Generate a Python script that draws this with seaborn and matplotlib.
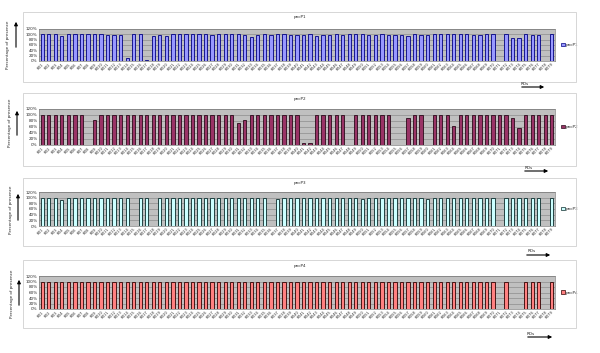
import matplotlib
matplotlib.use("Agg")
import matplotlib.pyplot as plt
import seaborn as sns
from matplotlib.patches import Rectangle
from matplotlib.ticker import PercentFormatter

# ---------------------------------------------------------------------------
# Data (fraction of strains in which each RD is present)
# ---------------------------------------------------------------------------

RD_LABELS = [
    "RD1", "RD2", "RD3", "RD4", "RD5", "RD6", "RD7", "RD8", "RD9", "RD10",
    "RD11", "RD12", "RD13", "RD14", "RD15", "RD16", "RD17", "RD18", "RD19", "RD20",
    "RD21", "RD22", "RD23", "RD24", "RD25", "RD26", "RD27", "RD28", "RD29", "RD30",
    "RD31", "RD32", "RD33", "RD34", "RD35", "RD36", "RD37", "RD38", "RD39", "RD40",
    "RD41", "RD42", "RD43", "RD44", "RD45", "RD46", "RD47", "RD48", "RD49", "RD50",
    "RD51", "RD52", "RD53", "RD54", "RD55", "RD56", "RD57", "RD58", "RD59", "RD60",
    "RD61", "RD62", "RD63", "RD64", "RD65", "RD66", "RD67", "RD68", "RD69", "RD70",
    "RD71", "RD72", "RD73", "RD74", "RD75", "RD76", "RD77", "RD78", "RD79",
]

PNCP1 = [
    1.00, 1.00, 1.00, 0.95, 1.00, 1.00, 1.00, 1.00, 1.00, 1.00,
    0.98, 0.98, 0.98, 0.10, 1.00, 1.00, 0.02, 0.95, 0.98, 0.95,
    1.00, 1.00, 1.00, 1.00, 1.00, 1.00, 0.98, 1.00, 1.00, 1.00,
    1.00, 0.98, 0.90, 0.97, 1.00, 0.99, 1.00, 1.00, 0.99, 0.97,
    0.96, 1.00, 0.92, 0.98, 0.99, 1.00, 0.97, 1.00, 1.00, 1.00,
    0.99, 0.98, 1.00, 0.99, 0.97, 0.97, 0.95, 1.00, 0.98, 0.98,
    1.00, 1.00, 1.00, 1.00, 1.00, 1.00, 0.99, 0.99, 1.00, 1.00,
    0.00, 1.00, 0.85, 0.88, 1.00, 0.99, 0.99, 0.00, 1.00,
]

PNCP2 = [
    1.00, 1.00, 1.00, 1.00, 1.00, 1.00, 1.00, 0.00, 0.82, 1.00,
    1.00, 1.00, 1.00, 1.00, 1.00, 1.00, 1.00, 1.00, 1.00, 1.00,
    1.00, 1.00, 1.00, 1.00, 1.00, 1.00, 1.00, 1.00, 1.00, 1.00,
    0.75, 0.82, 1.00, 1.00, 1.00, 1.00, 1.00, 1.00, 1.00, 1.00,
    0.08, 0.08, 1.00, 1.00, 1.00, 1.00, 1.00, 0.00, 1.00, 1.00,
    1.00, 1.00, 1.00, 1.00, 0.00, 0.00, 0.90, 1.00, 1.00, 0.00,
    1.00, 1.00, 1.00, 0.64, 1.00, 1.00, 1.00, 1.00, 1.00, 1.00,
    1.00, 1.00, 0.90, 0.56, 1.00, 1.00, 1.00, 1.00, 1.00,
]

PNCP3 = [
    1.00, 1.00, 1.00, 0.93, 1.00, 1.00, 1.00, 1.00, 1.00, 1.00,
    1.00, 1.00, 1.00, 1.00, 0.00, 1.00, 1.00, 0.00, 1.00, 1.00,
    1.00, 1.00, 1.00, 1.00, 1.00, 1.00, 1.00, 1.00, 1.00, 1.00,
    1.00, 1.00, 1.00, 1.00, 1.00, 0.00, 0.96, 1.00, 1.00, 1.00,
    1.00, 1.00, 1.00, 1.00, 1.00, 1.00, 1.00, 1.00, 1.00, 0.96,
    1.00, 1.00, 1.00, 1.00, 1.00, 1.00, 1.00, 1.00, 1.00, 0.95,
    1.00, 1.00, 1.00, 1.00, 1.00, 1.00, 1.00, 1.00, 1.00, 1.00,
    0.00, 1.00, 1.00, 1.00, 1.00, 1.00, 1.00, 0.00, 1.00,
]

PNCP4 = [
    1.00, 1.00, 1.00, 1.00, 1.00, 1.00, 1.00, 1.00, 1.00, 1.00,
    1.00, 1.00, 1.00, 1.00, 1.00, 1.00, 1.00, 1.00, 1.00, 1.00,
    1.00, 1.00, 1.00, 1.00, 1.00, 1.00, 1.00, 1.00, 1.00, 1.00,
    1.00, 1.00, 1.00, 1.00, 1.00, 1.00, 1.00, 1.00, 1.00, 1.00,
    1.00, 1.00, 1.00, 1.00, 1.00, 1.00, 1.00, 1.00, 1.00, 1.00,
    1.00, 1.00, 1.00, 1.00, 1.00, 1.00, 1.00, 1.00, 1.00, 1.00,
    1.00, 1.00, 1.00, 1.00, 1.00, 1.00, 1.00, 1.00, 1.00, 1.00,
    0.00, 1.00, 0.00, 0.00, 1.00, 1.00, 1.00, 0.00, 1.00,
]

SERIES_NAMES = ["pncP1", "pncP2", "pncP3", "pncP4"]
SERIES_VALUES = [PNCP1, PNCP2, PNCP3, PNCP4]
BAR_COLORS = ["#9999FF", "#993366", "#CCFFFF", "#FF8080"]
EDGE_COLORS = ["#000080", "#2a0a1a", "#0a2a2a", "#300000"]

# ---------------------------------------------------------------------------
# Layout (pixel positions on a 600 x 353 canvas)
# ---------------------------------------------------------------------------

W, H = 600, 353
PLOT_Y = [(29, 61), (109, 145), (192, 226), (276, 309)]
BOX_Y = [(12, 82), (93, 166), (178, 246), (260, 328)]
TITLE_Y = [17, 99, 183, 266]
RDS_POS = [(525, 84, 87, 519, 547), (529, 168, 171, 522, 551),
           (532, 251, 255, 524, 553), (531, 334, 337, 525, 555)]
YLAB_POS = [(8, 45, 16, 50, 19), (10, 123, 17, 138, 108),
            (11, 210, 18, 223, 191), (12, 294, 19, 308, 277)]
PLOT_X = (39, 555)


def fx(x):
    return x / W


def fy(y):
    return 1 - y / H


sns.set_style("white")
plt.rcParams["font.family"] = ["DejaVu Sans"]

fig = plt.figure(figsize=(6.0, 3.53), dpi=100)

for i, (name, vals) in enumerate(zip(SERIES_NAMES, SERIES_VALUES)):
    y0, y1 = PLOT_Y[i]
    ax = fig.add_axes([fx(PLOT_X[0]), fy(y1), fx(PLOT_X[1] - PLOT_X[0]), (y1 - y0) / H])

    # outer chart box
    b0, b1 = BOX_Y[i]
    fig.patches.append(Rectangle((fx(23), fy(b1)), fx(576 - 23), (b1 - b0) / H,
                                 transform=fig.transFigure, fill=False,
                                 edgecolor="#d0d0d0", linewidth=0.6))

    sns.barplot(x=RD_LABELS, y=vals, color=BAR_COLORS[i], saturation=1,
                width=0.5, edgecolor=EDGE_COLORS[i], linewidth=0.6,
                errorbar=None, ax=ax, zorder=3)

    ax.set_facecolor("#C0C0C0")
    ax.set_ylim(0, 1.2)
    ax.set_xlim(-0.5, len(RD_LABELS) - 0.5)
    ax.set_yticks([0, 0.2, 0.4, 0.6, 0.8, 1.0, 1.2])
    ax.yaxis.set_major_formatter(PercentFormatter(1.0, decimals=0))
    ax.grid(axis="y", color="#808080", linewidth=0.4, zorder=0)
    ax.set_axisbelow(True)
    ax.tick_params(axis="y", labelsize=3, length=0, pad=1)
    ax.tick_params(axis="x", labelsize=2.5, length=0, pad=1)
    plt.setp(ax.get_xticklabels(), rotation=45, ha="right", rotation_mode="anchor")
    for side in ax.spines.values():
        side.set_color("#808080")
        side.set_linewidth(0.5)

    # legend
    handle = Rectangle((0, 0), 1, 1, facecolor=BAR_COLORS[i],
                       edgecolor=EDGE_COLORS[i], linewidth=0.5)
    ax.legend([handle], [name], loc="center left", bbox_to_anchor=(1.005, 0.5),
              frameon=False, fontsize=3, handlelength=0.8, handleheight=0.8,
              handletextpad=0.3)

    # title
    fig.text(fx(300), fy(TITLE_Y[i]), name, ha="center", va="center", fontsize=3)

    # y label with upward arrow
    lx, ly, ax_x, a_from, a_to = YLAB_POS[i]
    fig.text(fx(lx), fy(ly), "Percentage of presence", rotation=90,
             ha="center", va="center", fontsize=3)
    fig.add_artist(plt.Annotation("", xy=(fx(ax_x), fy(a_to)), xytext=(fx(ax_x), fy(a_from)),
                                  xycoords=fig.transFigure, textcoords=fig.transFigure,
                                  arrowprops=dict(arrowstyle="-|>", color="black",
                                                  lw=0.8, mutation_scale=5)))

    # RDs label with right arrow
    tx, ty, ay, ax0, ax1 = RDS_POS[i]
    fig.text(fx(tx), fy(ty), "RDs", ha="center", va="center", fontsize=3)
    fig.add_artist(plt.Annotation("", xy=(fx(ax1), fy(ay)), xytext=(fx(ax0), fy(ay)),
                                  xycoords=fig.transFigure, textcoords=fig.transFigure,
                                  arrowprops=dict(arrowstyle="-|>", color="black",
                                                  lw=0.8, mutation_scale=5)))

fig.savefig("out.png", dpi=100, facecolor="white")
